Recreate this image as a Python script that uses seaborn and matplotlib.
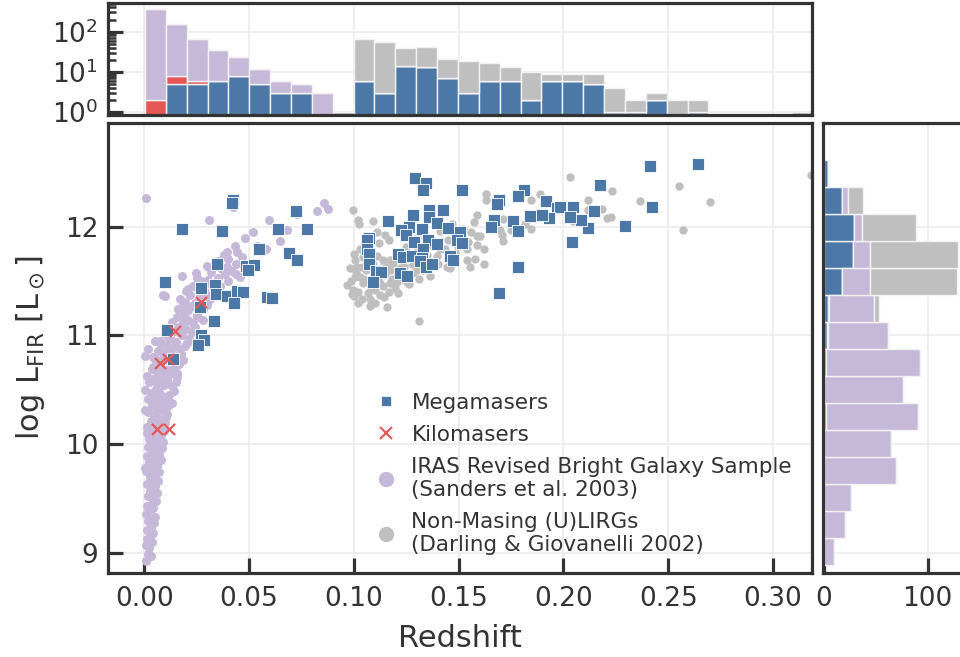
import numpy as np
import pandas as pd
import matplotlib
matplotlib.use("Agg")
import matplotlib.pyplot as plt
from matplotlib.lines import Line2D
from matplotlib.ticker import FormatStrFormatter, LogLocator, NullFormatter
import seaborn as sns

# ---------------------------------------------------------------- samples
MEGA = "Megamasers"
KILO = "Kilomasers"
IRAS = "IRAS Revised Bright Galaxy Sample\n(Sanders et al. 2003)"
NONM = "Non-Masing (U)LIRGs\n(Darling & Giovanelli 2002)"

# OH megamasers: redshift, log L_FIR
mega_z = [0.0422, 0.0418, 0.0180, 0.0372, 0.0639, 0.0775, 0.0724, 0.0549, 0.0689, 0.0730,
          0.0348, 0.0484, 0.0523, 0.0496, 0.0100, 0.0269, 0.0337, 0.0344, 0.0393, 0.0441,
          0.0472, 0.0429, 0.0584, 0.0608, 0.0264, 0.0331, 0.0107, 0.0269, 0.0285, 0.0258,
          0.0138, 0.1292, 0.1343, 0.1331, 0.1517, 0.1810, 0.1784, 0.1694, 0.1681, 0.1915,
          0.1968, 0.1983, 0.2044, 0.2176, 0.2413, 0.2640, 0.2424, 0.2293, 0.2147, 0.2118,
          0.2083, 0.2031, 0.1931, 0.1896, 0.1840, 0.1761, 0.1784, 0.1668, 0.1654, 0.2039,
          0.1784, 0.1694, 0.1427, 0.1360, 0.1360, 0.1280, 0.1161, 0.1398, 0.1450, 0.1506,
          0.1326, 0.1264, 0.1225, 0.1247, 0.1287, 0.1355, 0.1398, 0.1490, 0.1514, 0.1072,
          0.1061, 0.1061, 0.1073, 0.1073, 0.1105, 0.1128, 0.1093, 0.1212, 0.1236, 0.1276,
          0.1328, 0.1323, 0.1315, 0.1344, 0.1371, 0.1220, 0.1255, 0.1458, 0.1474]
mega_logL = [12.25, 12.22, 11.98, 11.96, 11.98, 11.98, 12.14, 11.79, 11.76, 11.69,
             11.66, 11.64, 11.65, 11.60, 11.49, 11.44, 11.46, 11.38, 11.36, 11.41,
             11.40, 11.30, 11.35, 11.34, 11.26, 11.13, 11.05, 11.00, 10.96, 10.91,
             10.78, 12.45, 12.40, 12.34, 12.34, 12.34, 12.28, 12.25, 12.21, 12.24,
             12.17, 12.18, 12.18, 12.38, 12.56, 12.58, 12.18, 12.01, 12.14, 11.99,
             12.06, 12.09, 12.08, 12.11, 12.10, 12.05, 11.96, 12.06, 12.00, 11.86,
             11.63, 11.39, 12.15, 12.15, 12.09, 12.11, 12.05, 12.03, 11.99, 11.95,
             11.98, 12.00, 11.97, 11.92, 11.86, 11.88, 11.84, 11.88, 11.85, 11.90,
             11.88, 11.79, 11.75, 11.66, 11.59, 11.58, 11.49, 11.75, 11.72, 11.73,
             11.79, 11.71, 11.68, 11.63, 11.66, 11.57, 11.55, 11.73, 11.69]

# OH kilomasers
kilo_z = [0.0271, 0.0148, 0.0075, 0.0115, 0.0062, 0.0118]
kilo_logL = [11.31, 11.04, 10.75, 10.78, 10.14, 10.14]

# IRAS Revised Bright Galaxy Sample
iras_z = [0.0010, 0.0020, 0.0030, 0.0008, 0.0025, 0.0035, 0.0015, 0.0027, 0.0040, 0.0011,
          0.0030, 0.0045, 0.0020, 0.0035, 0.0008, 0.0050, 0.0025, 0.0040, 0.0015, 0.0043,
          0.0055, 0.0019, 0.0035, 0.0060, 0.0028, 0.0048,
          0.0051, 0.0015, 0.0035, 0.0065, 0.0027, 0.0050, 0.0070, 0.0010, 0.0040, 0.0003,
          0.0060, 0.0059, 0.0025, 0.0080, 0.0045, 0.0015, 0.0070, 0.0035, 0.0055, 0.0043,
          0.0085, 0.0020, 0.0065,
          0.0040, 0.0090, 0.0067, 0.0025, 0.0050, 0.0080, 0.0011, 0.0060, 0.0095, 0.0035,
          0.0070, 0.0011, 0.0050, 0.0100, 0.0083, 0.0030, 0.0060, 0.0105, 0.0045, 0.0107,
          0.0020, 0.0075, 0.0003, 0.0055, 0.0090, 0.0115, 0.0035, 0.0131, 0.0065, 0.0019,
          0.0100,
          0.0045, 0.0083, 0.0120, 0.0030, 0.0070, 0.0140, 0.0002, 0.0055, 0.0131, 0.0095,
          0.0059, 0.0025, 0.0150, 0.0110, 0.0040, 0.0080, 0.0155, 0.0015, 0.0125, 0.0060,
          0.0155, 0.0095, 0.0107, 0.0035, 0.0043, 0.0140, 0.0075, 0.0165, 0.0120, 0.0186,
          0.0050, 0.0090, 0.0043, 0.0003, 0.0150,
          0.0110, 0.0175, 0.0091, 0.0065, 0.0019, 0.0170, 0.0130, 0.0107, 0.0195, 0.0080,
          0.0202, 0.0150, 0.0051, 0.0075, 0.0120, 0.0215, 0.0123, 0.0180, 0.0100, 0.0170,
          0.0230, 0.0140, 0.0200, 0.0115, 0.0165, 0.0240, 0.0186, 0.0234, 0.0130, 0.0281,
          0.0210, 0.0155, 0.0250, 0.0190, 0.0250,
          0.0210, 0.0160, 0.0280, 0.0178, 0.0230, 0.0300, 0.0242, 0.0195, 0.0313, 0.0170,
          0.0266, 0.0099, 0.0091, 0.0220, 0.0298, 0.0330, 0.0200, 0.0329, 0.0255, 0.0207,
          0.0234, 0.0361, 0.0290, 0.0340, 0.0270, 0.0302, 0.0401, 0.0250, 0.0350, 0.0457,
          0.0181, 0.0385, 0.0437, 0.0245, 0.0320, 0.0417,
          0.0370, 0.0396, 0.0300, 0.0440, 0.0350, 0.0465, 0.0400, 0.0380, 0.0393, 0.0441,
          0.0433, 0.0536, 0.0581, 0.0647, 0.0682, 0.0596, 0.0307, 0.0422, 0.0727, 0.0822,
          0.0857, 0.0875, 0.0007, 0.0480, 0.0520]
iras_logL = [8.92, 8.99, 8.97, 9.07, 9.04, 9.10, 9.13, 9.15, 9.18, 9.21,
             9.24, 9.27, 9.29, 9.30, 9.36, 9.33, 9.38, 9.41, 9.43, 9.46,
             9.48, 9.52, 9.50, 9.55, 9.57, 9.59,
             9.61, 9.63, 9.65, 9.66, 9.70, 9.72, 9.74, 9.75, 9.77, 9.78,
             9.80, 9.82, 9.83, 9.85, 9.87, 9.89, 9.90, 9.92, 9.94, 9.95,
             9.96, 9.97, 9.99,
             10.01, 10.02, 10.04, 10.05, 10.07, 10.08, 10.10, 10.11, 10.12, 10.13,
             10.15, 10.16, 10.18, 10.19, 10.22, 10.21, 10.24, 10.25, 10.27, 10.28,
             10.29, 10.30, 10.31, 10.33, 10.34, 10.35, 10.36, 10.38, 10.39, 10.41,
             10.41,
             10.43, 10.44, 10.45, 10.47, 10.48, 10.49, 10.50, 10.51, 10.53, 10.54,
             10.56, 10.57, 10.57, 10.59, 10.60, 10.61, 10.62, 10.63, 10.64, 10.65,
             10.65, 10.67, 10.68, 10.69, 10.71, 10.71, 10.73, 10.74, 10.76, 10.77,
             10.78, 10.79, 10.80, 10.81, 10.81,
             10.83, 10.83, 10.84, 10.86, 10.87, 10.87, 10.88, 10.90, 10.90, 10.92,
             10.93, 10.94, 10.95, 10.95, 10.97, 10.97, 10.99, 11.00, 11.01, 11.02,
             11.03, 11.04, 11.06, 11.07, 11.08, 11.08, 11.11, 11.11, 11.12, 11.14,
             11.14, 11.17, 11.17, 11.19, 11.19,
             11.23, 11.24, 11.24, 11.26, 11.27, 11.28, 11.30, 11.31, 11.33, 11.33,
             11.36, 11.36, 11.37, 11.37, 11.39, 11.40, 11.41, 11.42, 11.43, 11.43,
             11.45, 11.45, 11.47, 11.49, 11.50, 11.51, 11.50, 11.53, 11.53, 11.54,
             11.55, 11.56, 11.56, 11.57, 11.58, 11.59,
             11.61, 11.63, 11.64, 11.66, 11.68, 11.72, 11.70, 11.74, 11.77, 11.77,
             11.82, 11.82, 11.79, 11.87, 11.97, 12.06, 12.06, 12.18, 12.12, 12.14,
             12.22, 12.16, 12.26, 11.90, 11.95]

# Non-masing (U)LIRGs
nonm_z = [0.0997, 0.1021, 0.1026, 0.1093, 0.1112, 0.1169, 0.0969, 0.1000, 0.1021, 0.1311,
          0.1005, 0.1013, 0.1029, 0.1005, 0.1045, 0.1069, 0.1101, 0.1125, 0.1169, 0.1212,
          0.1140, 0.1172, 0.1140, 0.1157, 0.1172, 0.1037, 0.1045, 0.1029, 0.1109, 0.1172,
          0.1252, 0.1300, 0.1307, 0.1379, 0.1411, 0.1395, 0.1443, 0.1458, 0.1554, 0.1538,
          0.1538, 0.1546, 0.1586, 0.1589, 0.1586, 0.1573, 0.1622, 0.1602, 0.1629, 0.1629,
          0.1713, 0.1697, 0.1705, 0.1710, 0.1748, 0.1816, 0.1844, 0.1844, 0.1888, 0.1912,
          0.1936, 0.2031, 0.2047, 0.2118, 0.2118, 0.2185, 0.2206, 0.2225, 0.2230, 0.2365,
          0.2552, 0.2572, 0.2699, 0.1662, 0.1681, 0.1109, 0.1125, 0.1204, 0.1069, 0.0997,
          0.1077, 0.1220, 0.1276, 0.1435, 0.1482, 0.1498, 0.3180,
          0.0985, 0.1010, 0.1050, 0.1080, 0.1060, 0.1090, 0.1115, 0.1130, 0.1150, 0.1180,
          0.1195, 0.1185, 0.1205, 0.1230, 0.1240, 0.1265, 0.1280, 0.1295, 0.1310, 0.1330,
          0.1350, 0.1365, 0.1020, 0.1040, 0.1100, 0.1145, 0.1000, 0.1070, 0.1120, 0.1150,
          0.1250, 0.1260, 0.1300, 0.1410, 0.1450, 0.1470, 0.1520, 0.1560, 0.1580, 0.1620,
          0.1400, 0.0980, 0.0990, 0.1075, 0.1160]
nonm_logL = [12.15, 12.06, 12.02, 12.05, 11.95, 11.88, 11.46, 11.36, 11.30, 11.13,
             11.69, 11.63, 11.54, 11.54, 11.48, 11.39, 11.42, 11.37, 11.40, 11.39,
             11.45, 11.48, 11.69, 11.63, 11.69, 11.63, 11.72, 11.79, 11.73, 11.60,
             11.49, 11.60, 11.79, 11.82, 11.79, 11.73, 11.63, 11.62, 11.63, 11.69,
             11.79, 11.86, 11.83, 11.91, 12.11, 12.04, 11.79, 11.91, 12.30, 12.25,
             12.07, 11.97, 11.92, 11.87, 11.97, 12.02, 11.98, 12.25, 12.30, 12.11,
             12.06, 12.46, 12.05, 12.25, 12.15, 12.16, 12.08, 12.09, 12.33, 12.24,
             12.37, 11.97, 12.23, 12.06, 12.00, 11.56, 11.48, 11.49, 11.49, 11.42,
             11.33, 11.62, 11.66, 11.79, 11.76, 11.82, 12.48,
             11.50, 11.58, 11.52, 11.44, 11.60, 11.66, 11.52, 11.62, 11.56, 11.52,
             11.44, 11.67, 11.58, 11.52, 11.63, 11.47, 11.57, 11.68, 11.52, 11.60,
             11.74, 11.55, 11.40, 11.33, 11.30, 11.35, 11.75, 11.81, 11.85, 11.92,
             11.81, 11.95, 11.90, 11.96, 11.88, 12.02, 11.98, 11.95, 11.70, 11.66,
             11.66, 11.62, 11.38, 11.27, 11.26]

# Binned counts for the marginal histograms (redshift: 32 bins, log L_FIR: 15 bins)
z_bin_range = (0.0003, 0.3190)
mega_z_counts = [0, 5, 5, 6, 8, 5, 3, 3, 0, 0, 6, 3, 14, 13, 7, 3,
                 6, 6, 2, 6, 6, 5, 1, 1, 2, 0, 1, 0, 0, 0, 0, 0]
kilo_z_counts = [2, 3, 1, 0, 0, 0, 0, 0, 0, 0, 0, 0, 0, 0, 0, 0,
                 0, 0, 0, 0, 0, 0, 0, 0, 0, 0, 0, 0, 0, 0, 0, 0]
iras_z_counts = [372, 145, 58, 28, 15, 7, 3, 2, 3, 0, 0, 0, 0, 0, 0, 0,
                 0, 0, 0, 0, 0, 0, 0, 0, 0, 0, 0, 0, 0, 0, 0, 0]
nonm_z_counts = [0, 0, 0, 0, 0, 0, 0, 0, 0, 1, 61, 53, 25, 29, 14, 16,
                 11, 7, 8, 3, 3, 4, 3, 1, 1, 2, 1, 0, 0, 0, 0, 1]

L_bin_range = (8.887, 12.614)
mega_L_counts = [0, 0, 0, 0, 0, 0, 0, 0, 3, 4, 17, 28, 29, 17, 4]
kilo_L_counts = [0, 0, 0, 0, 0, 2, 0, 2, 1, 1, 0, 0, 0, 0, 0]
iras_L_counts = [10, 20, 26, 69, 65, 89, 76, 91, 58, 43, 27, 16, 8, 6, 0]
nonm_L_counts = [0, 0, 0, 0, 0, 0, 0, 0, 0, 5, 84, 85, 52, 15, 1]

# ---------------------------------------------------------------- style
palette = {MEGA: "#4c78a8", KILO: "#e45756", IRAS: "#c6b8d9", NONM: "#bfbfbf"}
stack_order = [NONM, IRAS, KILO, MEGA]  # seaborn stacks the last level at the bottom

sns.set_theme(style="ticks")
plt.rcParams.update({
    "font.family": ["DejaVu Sans"],
    "axes.edgecolor": "#333333",
    "axes.linewidth": 2.3,
    "axes.grid": True,
    "grid.color": "#eeeeee",
    "grid.linewidth": 1.4,
    "xtick.direction": "in",
    "ytick.direction": "in",
    "xtick.major.size": 10.5,
    "ytick.major.size": 10.5,
    "xtick.major.width": 2.3,
    "ytick.major.width": 2.3,
    "ytick.minor.size": 5.5,
    "ytick.minor.width": 1.8,
    "xtick.major.pad": 9,
    "ytick.major.pad": 7,
    "xtick.labelsize": 19,
    "ytick.labelsize": 19,
    "axes.labelsize": 22,
    "xtick.color": "#333333",
    "ytick.color": "#333333",
    "axes.labelcolor": "#333333",
    "text.color": "#333333",
})

W, H = 960, 657
fig = plt.figure(figsize=(W / 100, H / 100), dpi=100)
ax_main = fig.add_axes([108 / W, 84 / H, 704 / W, 450 / H])
ax_top = fig.add_axes([108 / W, 542 / H, 704 / W, 112 / H], sharex=ax_main)
ax_right = fig.add_axes([823 / W, 84 / H, 140 / W, 450 / H], sharey=ax_main)

# ---------------------------------------------------------------- joint scatter
sns.scatterplot(x=nonm_z, y=nonm_logL, ax=ax_main, color=palette[NONM], marker="o",
                s=36, linewidth=0, zorder=2, legend=False)
sns.scatterplot(x=iras_z, y=iras_logL, ax=ax_main, color=palette[IRAS], marker="o",
                s=42, linewidth=0, zorder=2, legend=False)
sns.scatterplot(x=mega_z, y=mega_logL, ax=ax_main, color=palette[MEGA], marker="s",
                s=64, edgecolor="white", linewidth=0.6, zorder=3, legend=False)
sns.scatterplot(x=kilo_z, y=kilo_logL, ax=ax_main, color=palette[KILO], marker="x",
                s=64, linewidth=1.6, zorder=4, legend=False)

# ---------------------------------------------------------------- marginals
n_zbins = len(mega_z_counts)
z_width = (z_bin_range[1] - z_bin_range[0]) / n_zbins
z_mid = z_bin_range[0] + z_width * (np.arange(n_zbins) + 0.5)
top_df = pd.DataFrame({
    "z": np.tile(z_mid, 4),
    "n": np.concatenate([mega_z_counts, kilo_z_counts, iras_z_counts, nonm_z_counts]),
    "sample": np.repeat([MEGA, KILO, IRAS, NONM], n_zbins),
})
sns.histplot(data=top_df, x="z", weights="n", hue="sample", hue_order=stack_order,
             palette=palette, bins=n_zbins, binrange=z_bin_range, multiple="stack",
             alpha=1, edgecolor="#f2f2f2", linewidth=1, legend=False, ax=ax_top)

n_Lbins = len(mega_L_counts)
L_width = (L_bin_range[1] - L_bin_range[0]) / n_Lbins
L_mid = L_bin_range[0] + L_width * (np.arange(n_Lbins) + 0.5)
right_df = pd.DataFrame({
    "logL": np.tile(L_mid, 4),
    "n": np.concatenate([mega_L_counts, kilo_L_counts, iras_L_counts, nonm_L_counts]),
    "sample": np.repeat([MEGA, KILO, IRAS, NONM], n_Lbins),
})
sns.histplot(data=right_df, y="logL", weights="n", hue="sample", hue_order=stack_order,
             palette=palette, bins=n_Lbins, binrange=L_bin_range, multiple="stack",
             alpha=1, edgecolor="#f2f2f2", linewidth=1, legend=False, ax=ax_right)

# ---------------------------------------------------------------- axes
ax_main.set_xlim(-0.0173, 0.3186)
ax_main.set_ylim(8.813, 12.954)
ax_main.set_xticks([0.0, 0.05, 0.10, 0.15, 0.20, 0.25, 0.30])
ax_main.xaxis.set_major_formatter(FormatStrFormatter("%.2f"))
ax_main.set_yticks([9, 10, 11, 12])
ax_main.set_xlabel("Redshift", labelpad=9)
ax_main.set_ylabel(r"log L$_{\rm FIR}$ [L$_\odot$]", labelpad=13)

ax_top.set_yscale("log")
ax_top.set_ylim(0.84, 515)
ax_top.yaxis.set_major_locator(LogLocator(base=10, numticks=10))
ax_top.yaxis.set_minor_locator(LogLocator(base=10, subs=np.arange(2, 10), numticks=10))
ax_top.yaxis.set_minor_formatter(NullFormatter())
ax_top.tick_params(axis="x", which="both", length=0, labelbottom=False)
ax_top.set_xlabel("")
ax_top.set_ylabel("")
ax_top.grid(False, which="minor")

ax_right.set_xlim(-1, 134)
ax_right.set_xticks([0, 100])
ax_right.tick_params(axis="y", which="both", length=0, labelleft=False)
ax_right.set_xlabel("")
ax_right.set_ylabel("")

for ax in (ax_main, ax_top, ax_right):
    for side in ("top", "right"):
        ax.spines[side].set_visible(True)
    ax.set_axisbelow(True)

# ---------------------------------------------------------------- legend
handles = [
    Line2D([], [], ls="", marker="s", markersize=7.5, color=palette[MEGA],
           markeredgecolor="white", markeredgewidth=0.5),
    Line2D([], [], ls="", marker="x", markersize=8, color=palette[KILO],
           markeredgewidth=1.5),
    Line2D([], [], ls="", marker="o", markersize=11, color=palette[IRAS],
           markeredgewidth=0),
    Line2D([], [], ls="", marker="o", markersize=11, color=palette[NONM],
           markeredgewidth=0),
]
ax_main.legend(handles, [MEGA, KILO, IRAS, NONM], loc="upper left",
               bbox_to_anchor=(0.379, 0.400), frameon=False, fontsize=15.5,
               handlelength=1.0, handletextpad=0.7, labelspacing=0.55,
               borderpad=0, borderaxespad=0)

fig.savefig("out.png", dpi=100)
